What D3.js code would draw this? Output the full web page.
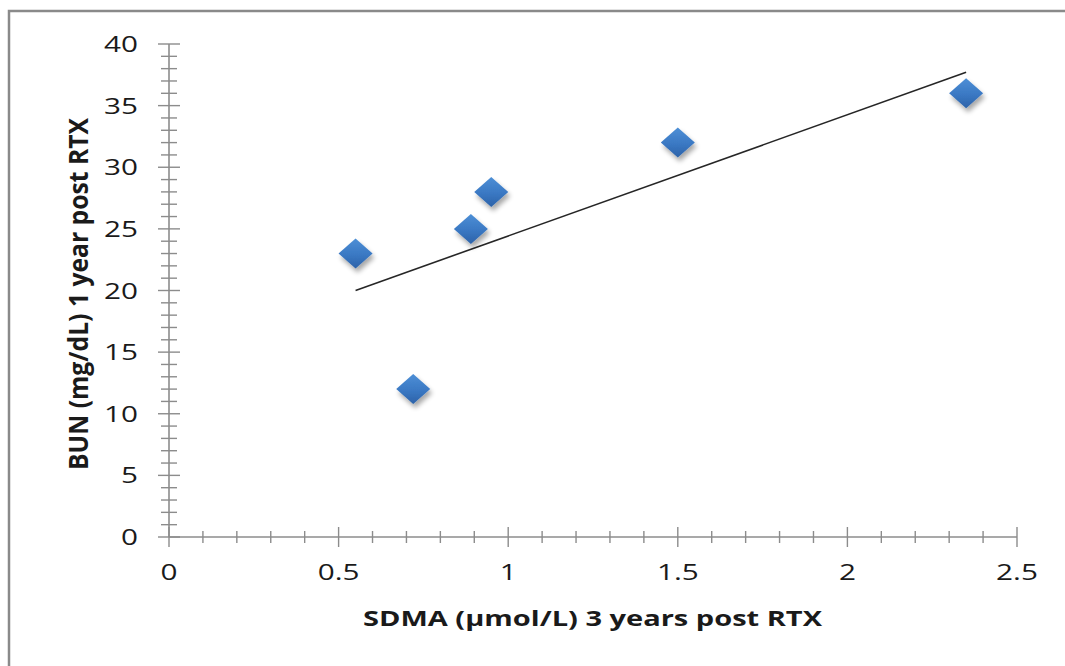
<!DOCTYPE html>
<html>
<head>
<meta charset="utf-8">
<script src="https://cdn.jsdelivr.net/npm/d3@7"></script>
<style>
  html, body { margin: 0; padding: 0; background: #fff; }
  svg { display: block; }
  text { font-family: "Open Sans", "Liberation Sans", sans-serif; fill: #1a1a1a; }
</style>
</head>
<body>
<svg id="chart" width="1065" height="666"></svg>
<script>
// SDMA (x) vs BUN (y) measurements
const sdma = [0.55, 0.72, 0.89, 0.95, 1.50, 2.35];
const bun  = [23, 12, 25, 28, 32, 36];

const xTicks = [0, 0.5, 1, 1.5, 2, 2.5];
const xTickLabels = ["0", "0.5", "1", "1.5", "2", "2.5"];
const yTicks = [0, 5, 10, 15, 20, 25, 30, 35, 40];
const yTickLabels = ["0", "5", "10", "15", "20", "25", "30", "35", "40"];

const xTitle = "SDMA (\u00b5mol/L) 3 years post RTX";
const yTitle = "BUN (mg/dL) 1 year post RTX";

const W = 1065, H = 666;
const svg = d3.select("#chart");

// frame lines (top and left)
svg.append("path")
  .attr("d", `M9,${H} V11 H${W}`)
  .attr("fill", "none").attr("stroke", "#8a8a8a").attr("stroke-width", 2.5);

const x = d3.scaleLinear().domain([0, 2.5]).range([169, 1017]);
const y = d3.scaleLinear().domain([0, 40]).range([537, 44]);

const axisColor = "#8c8c8c";
const sx = 1.35; // horizontal stretch of glyphs

// minor + major ticks on x
const xg = svg.append("g");
xg.append("line").attr("x1", x(0)).attr("x2", x(2.5)).attr("y1", y(0)).attr("y2", y(0))
  .attr("stroke", axisColor).attr("stroke-width", 1.6);
d3.range(0, 26).forEach(i => {
  const v = i / 10;
  const major = i % 5 === 0;
  xg.append("line").attr("x1", x(v)).attr("x2", x(v))
    .attr("y1", y(0) - (major ? 10 : 6)).attr("y2", y(0) + (major ? 10 : 6))
    .attr("stroke", axisColor).attr("stroke-width", 1.4);
});
xTicks.forEach((v, i) => {
  xg.append("text")
    .attr("transform", `translate(${x(v)},580) scale(${sx},1)`)
    .attr("text-anchor", "middle")
    .attr("font-size", 22)
    .text(xTickLabels[i]);
});

// minor + major ticks on y
const yg = svg.append("g");
yg.append("line").attr("x1", x(0)).attr("x2", x(0)).attr("y1", y(0)).attr("y2", y(40))
  .attr("stroke", axisColor).attr("stroke-width", 1.6);
d3.range(0, 41).forEach(v => {
  const major = v % 5 === 0;
  yg.append("line").attr("x1", x(0) - (major ? 11 : 8)).attr("x2", x(0) + (major ? 11 : 8))
    .attr("y1", y(v)).attr("y2", y(v))
    .attr("stroke", axisColor).attr("stroke-width", 1.4);
});
yTicks.forEach((v, i) => {
  yg.append("text")
    .attr("transform", `translate(138,${y(v) + 8}) scale(${sx},1)`)
    .attr("text-anchor", "end")
    .attr("font-size", 22)
    .text(yTickLabels[i]);
});

// axis titles
svg.append("text")
  .attr("x", 363).attr("y", 626)
  .attr("font-size", 21).attr("font-weight", "bold")
  .attr("textLength", 459).attr("lengthAdjust", "spacingAndGlyphs")
  .text(xTitle);

svg.append("text")
  .attr("transform", `translate(88,470) rotate(-90) scale(1,${sx})`)
  .attr("font-size", 20).attr("font-weight", "bold")
  .attr("textLength", 352).attr("lengthAdjust", "spacingAndGlyphs")
  .text(yTitle);

// least-squares trend line over the observed range
const mx = d3.mean(sdma), my = d3.mean(bun);
const slope = d3.sum(sdma, (d, i) => (d - mx) * (bun[i] - my)) / d3.sum(sdma, d => (d - mx) * (d - mx));
const icpt = my - slope * mx;
const [x0, x1] = d3.extent(sdma);
svg.append("line")
  .attr("x1", x(x0)).attr("y1", y(icpt + slope * x0))
  .attr("x2", x(x1)).attr("y2", y(icpt + slope * x1))
  .attr("stroke", "#262626").attr("stroke-width", 1.6);

// diamond markers with gradient and soft shadow
const defs = svg.append("defs");
const grad = defs.append("linearGradient").attr("id", "dgrad")
  .attr("x1", 0).attr("y1", 0).attr("x2", 0).attr("y2", 1);
grad.append("stop").attr("offset", "0%").attr("stop-color", "#4d8fd6");
grad.append("stop").attr("offset", "55%").attr("stop-color", "#3a78c3");
grad.append("stop").attr("offset", "100%").attr("stop-color", "#2c62a8");
const f = defs.append("filter").attr("id", "dshadow")
  .attr("x", "-50%").attr("y", "-50%").attr("width", "200%").attr("height", "200%");
f.append("feGaussianBlur").attr("in", "SourceAlpha").attr("stdDeviation", 2.5).attr("result", "b");
f.append("feOffset").attr("in", "b").attr("dx", 2).attr("dy", 4).attr("result", "o");
f.append("feComponentTransfer").attr("in", "o").attr("result", "s")
  .append("feFuncA").attr("type", "linear").attr("slope", 0.35);
const m = f.append("feMerge");
m.append("feMergeNode").attr("in", "s");
m.append("feMergeNode").attr("in", "SourceGraphic");

const hw = 17, hh = 15;
svg.append("g").selectAll("path").data(sdma).join("path")
  .attr("d", (d, i) => {
    const cx = x(d), cy = y(bun[i]);
    return `M${cx},${cy - hh} L${cx + hw},${cy} L${cx},${cy + hh} L${cx - hw},${cy} Z`;
  })
  .attr("fill", "url(#dgrad)")
  .attr("filter", "url(#dshadow)");
</script>
</body>
</html>
